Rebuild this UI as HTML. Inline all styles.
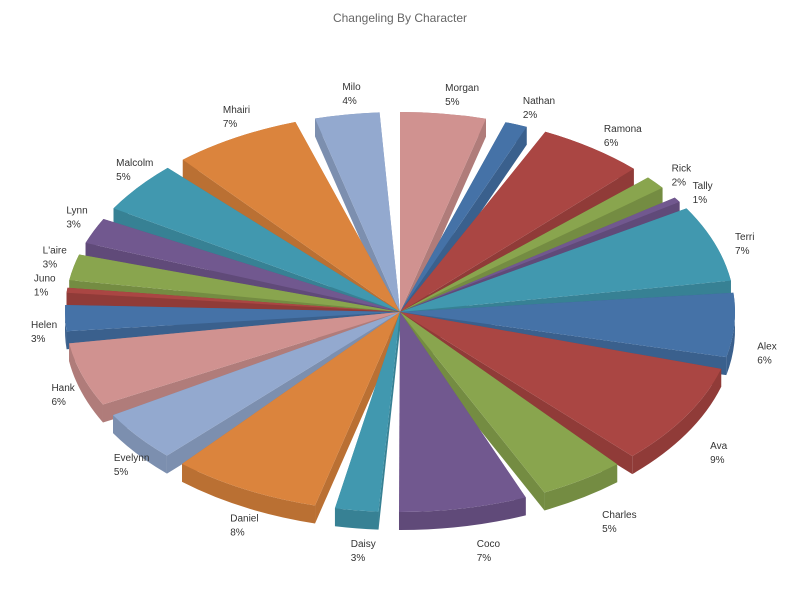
<!DOCTYPE html>
<html><head><meta charset="utf-8"><style>
body{margin:0;background:#fff}
svg text{font-family:"Liberation Sans","DejaVu Sans",sans-serif}
</style></head><body>
<svg id="c" width="800" height="600">
<text x="400" y="22" text-anchor="middle" font-size="12" fill="#666">Changeling By Character</text>
<g id="g"></g>
</svg>
<script>
const names=["Morgan","Nathan","Ramona","Rick","Tally","Terri","Alex","Ava","Charles","Coco","Daisy","Daniel","Evelynn","Hank","Helen","Juno","L'aire","Lynn","Malcolm","Mhairi","Milo"];
const values=[5,2,6,2,1,7,6,9,5,7,3,8,5,6,3,1,3,3,5,7,4];
const colors=["#d09290","#4572a7","#aa4643","#89a54e","#71588f","#4198af","#4572a7","#aa4643","#89a54e","#71588f","#4198af","#db843d","#93a9cf","#d09290","#4572a7","#aa4643","#89a54e","#71588f","#4198af","#db843d","#93a9cf"];
const cx=400,cy=312,rx=335,ry=200,depth=18,gapDeg=3.5;
const NS="http://www.w3.org/2000/svg";
const g=document.getElementById('g');
function dark(h,f){const n=parseInt(h.slice(1),16);const r=(n>>16)*f|0,gg=((n>>8)&255)*f|0,b=(n&255)*f|0;return `rgb(${r},${gg},${b})`;}
function pt(a,dy){return [cx+rx*Math.cos(a),cy+ry*Math.sin(a)+(dy||0)];}
const total=values.reduce((a,b)=>a+b,0);
let acc=-Math.PI/2;const slices=[];
values.forEach((v,i)=>{const span=v/total*2*Math.PI;const gp=gapDeg*Math.PI/180;
slices.push({i,a0:acc,a1:acc+Math.max(span-gp,span*0.4),mid:acc+span/2});acc+=span;});
const order=slices.slice().sort((a,b)=>Math.sin(a.mid)-Math.sin(b.mid));
function mk(tag,attrs,name){const e=document.createElementNS(NS,tag);for(const k in attrs)e.setAttribute(k,attrs[k]);


return e;}
order.forEach(s=>{const col=colors[s.i];const side=dark(col,0.85);
const grp=mk('g',{},'slice-'+names[s.i].toLowerCase().replace(/[^a-z]/g,''));
const large=(s.a1-s.a0)>Math.PI?1:0;
const p0=pt(s.a0),p1=pt(s.a1),q0=pt(s.a0,depth),q1=pt(s.a1,depth);
grp.appendChild(mk('path',{d:`M${cx},${cy}L${p0}L${q0}L${cx},${cy+depth}Z`,fill:side},'slice-face'));
grp.appendChild(mk('path',{d:`M${cx},${cy}L${p1}L${q1}L${cx},${cy+depth}Z`,fill:side},'slice-face'));
grp.appendChild(mk('path',{d:`M${p0}A${rx},${ry} 0 ${large} 1 ${p1}L${q1}A${rx},${ry} 0 ${large} 0 ${q0}Z`,fill:side},'slice-rim'));
grp.appendChild(mk('path',{d:`M${cx},${cy}L${p0}A${rx},${ry} 0 ${large} 1 ${p1}Z`,fill:col},'slice-top'));
g.appendChild(grp);});
slices.forEach(s=>{const c=Math.cos(s.mid),sn=Math.sin(s.mid);
let x=cx+(rx+22)*c,y=cy+(ry+22)*sn+(sn>0?depth:0);
if(c<0)x-=12;
if(sn>0)x+=20*sn;
if(sn<0&&c>0)x-=12*(-sn);
const t=mk('text',{x:x,y:y-2,'font-size':10,fill:'#333'},'data-label');

const t1=document.createElementNS(NS,'tspan');t1.setAttribute('x',x);t1.textContent=names[s.i];
const t2=document.createElementNS(NS,'tspan');t2.setAttribute('x',x);t2.setAttribute('dy',14);t2.textContent=values[s.i]+'%';
t.appendChild(t1);t.appendChild(t2);g.appendChild(t);});
</script>
</body></html>
